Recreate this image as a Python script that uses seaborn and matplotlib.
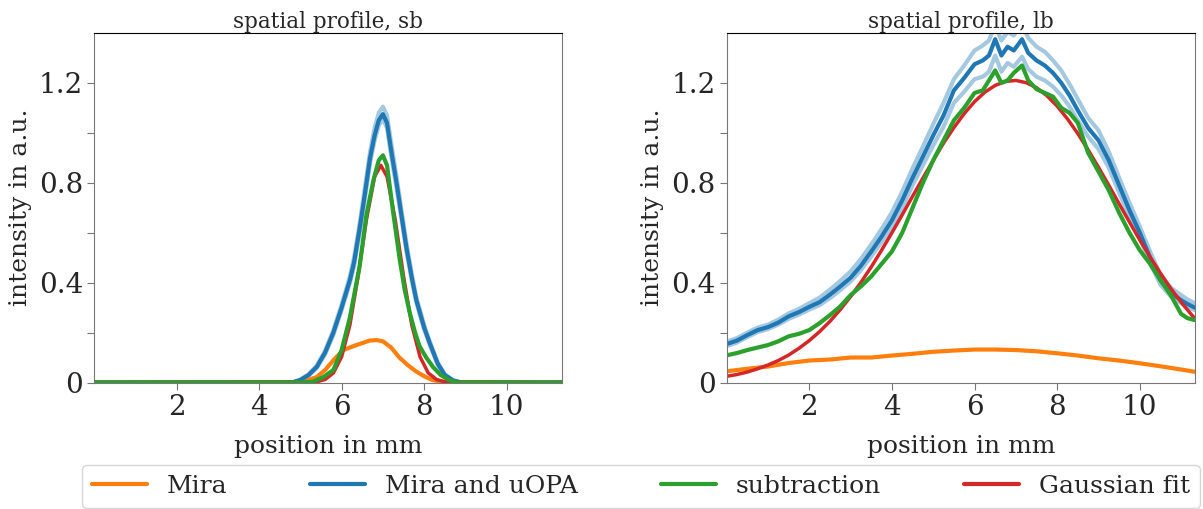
import matplotlib
matplotlib.use('Agg')
import matplotlib.pyplot as plt
import seaborn as sns
from matplotlib.lines import Line2D

sns.set_style('ticks')
plt.rcParams['font.family'] = 'DejaVu Serif'

# colours of the four signals
c_mira = '#ff7f0e'
c_both = '#1f77b4'
c_sub = '#2ca02c'
c_fit = '#d62728'

# ---- small beam (sb) ----
sb_mira_x = [0.0, 4.9, 5.1, 5.4, 5.6, 5.8, 6.04, 6.36, 6.68, 6.85, 7.0, 7.2, 7.4, 7.6, 7.8, 8.0, 8.2, 8.5, 11.34]
sb_mira = [0.0, 0.0, 0.005, 0.022, 0.05, 0.089, 0.13, 0.15, 0.168, 0.17, 0.165, 0.14, 0.1, 0.07, 0.045, 0.025, 0.01, 0.0, 0.0]

sb_both_x = [0.0, 4.8, 5.0, 5.2, 5.4, 5.6, 5.8, 6.0, 6.2, 6.3, 6.44, 6.55, 6.69, 6.8, 6.9, 7.0, 7.1, 7.2,
             7.33, 7.45, 7.57, 7.7, 7.81, 8.0, 8.13, 8.33, 8.5, 8.7, 8.9, 11.34]
sb_both = [0.0, 0.0, 0.01, 0.03, 0.063, 0.12, 0.2, 0.3, 0.41, 0.48, 0.62, 0.74, 0.9, 0.99, 1.05, 1.075, 1.04, 0.93,
           0.8, 0.67, 0.54, 0.42, 0.33, 0.22, 0.16, 0.075, 0.03, 0.008, 0.0, 0.0]
sb_both_hi = [0.0, 0.0, 0.012, 0.033, 0.068, 0.128, 0.21, 0.312, 0.425, 0.5, 0.64, 0.765, 0.925, 1.02, 1.08, 1.105, 1.07, 0.96,
              0.825, 0.69, 0.56, 0.435, 0.342, 0.23, 0.167, 0.08, 0.033, 0.009, 0.0, 0.0]
sb_both_lo = [0.0, 0.0, 0.008, 0.027, 0.058, 0.113, 0.19, 0.29, 0.398, 0.465, 0.6, 0.72, 0.88, 0.97, 1.03, 1.055, 1.02, 0.91,
              0.78, 0.655, 0.525, 0.408, 0.32, 0.212, 0.153, 0.07, 0.027, 0.007, 0.0, 0.0]

sb_sub_x = [0.0, 5.0, 5.3, 5.56, 5.8, 6.0, 6.2, 6.44, 6.6, 6.77, 6.9, 7.0, 7.1, 7.25, 7.41, 7.53, 7.65, 7.78,
            7.89, 8.05, 8.21, 8.4, 8.6, 8.8, 11.34]
sb_sub = [0.0, 0.0, 0.003, 0.022, 0.05, 0.13, 0.26, 0.47, 0.67, 0.81, 0.89, 0.91, 0.87, 0.68, 0.49, 0.37, 0.28, 0.2,
          0.145, 0.1, 0.063, 0.03, 0.01, 0.0, 0.0]

sb_fit_x = [0.0, 5.2, 5.4, 5.6, 5.8, 6.0, 6.2, 6.4, 6.6, 6.8, 6.95, 7.1, 7.3, 7.5, 7.7, 7.9, 8.1, 8.3, 8.5, 8.7, 11.34]
sb_fit = [0.0, 0.001, 0.003, 0.012, 0.038, 0.103, 0.23, 0.426, 0.651, 0.825, 0.87, 0.825, 0.651, 0.426, 0.23, 0.103,
          0.038, 0.012, 0.003, 0.001, 0.0]

# ---- large beam (lb) ----
lb_mira_x = [0.0, 0.5, 1.0, 1.5, 2.0, 2.5, 3.0, 3.5, 4.0, 4.5, 5.0, 5.5, 6.0, 6.5, 7.0, 7.5, 8.0, 8.5, 9.0,
             9.5, 10.0, 10.5, 11.0, 11.33]
lb_mira = [0.045, 0.055, 0.064, 0.078, 0.088, 0.092, 0.1, 0.1, 0.108, 0.115, 0.123, 0.128, 0.132, 0.132, 0.13,
           0.125, 0.117, 0.108, 0.097, 0.088, 0.077, 0.065, 0.052, 0.043]

lb_x = [0.0, 0.25, 0.5, 0.75, 1.0, 1.25, 1.5, 1.75, 2.0, 2.25, 2.5, 2.75, 3.0, 3.25, 3.5, 3.75, 4.0, 4.25, 4.5,
        4.75, 5.0, 5.25, 5.5, 5.75, 6.0, 6.2, 6.35, 6.5, 6.65, 6.8, 6.95, 7.15, 7.3, 7.5, 7.7, 7.9, 8.1, 8.3,
        8.5, 8.75, 9.0, 9.25, 9.5, 9.75, 10.0, 10.25, 10.5, 10.75, 11.0, 11.15, 11.33]
lb_both = [0.154, 0.168, 0.19, 0.21, 0.222, 0.24, 0.265, 0.282, 0.303, 0.322, 0.352, 0.385, 0.42, 0.468, 0.525,
           0.585, 0.65, 0.73, 0.82, 0.905, 0.99, 1.07, 1.17, 1.22, 1.275, 1.29, 1.31, 1.375, 1.31, 1.345, 1.33,
           1.375, 1.32, 1.29, 1.27, 1.24, 1.2, 1.15, 1.09, 1.02, 0.97, 0.89, 0.79, 0.69, 0.6, 0.5, 0.41, 0.36,
           0.33, 0.315, 0.3]
lb_both_hi = [0.164, 0.178, 0.2, 0.22, 0.232, 0.252, 0.277, 0.295, 0.318, 0.34, 0.372, 0.407, 0.445, 0.495, 0.553,
              0.615, 0.682, 0.765, 0.858, 0.945, 1.035, 1.12, 1.215, 1.27, 1.33, 1.35, 1.37, 1.435, 1.37, 1.405,
              1.39, 1.435, 1.38, 1.345, 1.325, 1.29, 1.25, 1.195, 1.135, 1.06, 1.01, 0.925, 0.82, 0.72, 0.625,
              0.525, 0.43, 0.38, 0.35, 0.333, 0.318]
lb_both_lo = [0.146, 0.16, 0.182, 0.202, 0.214, 0.232, 0.255, 0.272, 0.292, 0.31, 0.338, 0.37, 0.405, 0.45, 0.505,
              0.562, 0.625, 0.7, 0.79, 0.87, 0.95, 1.025, 1.12, 1.165, 1.215, 1.225, 1.245, 1.31, 1.245, 1.28,
              1.265, 1.305, 1.255, 1.225, 1.21, 1.185, 1.15, 1.105, 1.05, 0.985, 0.935, 0.86, 0.76, 0.665, 0.578,
              0.48, 0.392, 0.345, 0.318, 0.302, 0.29]
lb_sub = [0.109, 0.118, 0.13, 0.14, 0.15, 0.165, 0.185, 0.195, 0.21, 0.238, 0.27, 0.305, 0.35, 0.385, 0.425,
          0.475, 0.525, 0.6, 0.7, 0.8, 0.89, 0.97, 1.05, 1.1, 1.16, 1.17, 1.21, 1.25, 1.2, 1.21, 1.24, 1.27, 1.21,
          1.175, 1.16, 1.145, 1.1, 1.08, 1.04, 0.92, 0.845, 0.77, 0.68, 0.6, 0.53, 0.475, 0.41, 0.35, 0.275,
          0.258, 0.25]

lb_fit_x = [0.0, 0.25, 0.5, 0.75, 1.0, 1.25, 1.5, 1.75, 2.0, 2.25, 2.5, 2.75, 3.0, 3.25, 3.5, 3.75, 4.0, 4.25,
            4.5, 4.75, 5.0, 5.25, 5.5, 5.75, 6.0, 6.25, 6.5, 6.75, 7.0, 7.25, 7.5, 7.75, 8.0, 8.25, 8.5, 8.75,
            9.0, 9.25, 9.5, 9.75, 10.0, 10.25, 10.5, 10.75, 11.0, 11.25, 11.33]
lb_fit = [0.025, 0.032, 0.042, 0.055, 0.07, 0.088, 0.11, 0.137, 0.168, 0.204, 0.245, 0.292, 0.344, 0.401, 0.463,
          0.53, 0.6, 0.672, 0.746, 0.819, 0.89, 0.959, 1.021, 1.077, 1.125, 1.163, 1.19, 1.206, 1.21, 1.201,
          1.181, 1.149, 1.107, 1.056, 0.997, 0.932, 0.862, 0.79, 0.716, 0.643, 0.571, 0.503, 0.438, 0.377,
          0.322, 0.272, 0.258]

panels = [
    ('spatial profile, sb', sb_mira_x, sb_mira, sb_both_x, sb_both, sb_both_hi, sb_both_lo,
     sb_sub_x, sb_sub, sb_fit_x, sb_fit, 11.34),
    ('spatial profile, lb', lb_mira_x, lb_mira, lb_x, lb_both, lb_both_hi, lb_both_lo,
     lb_x, lb_sub, lb_fit_x, lb_fit, 11.33),
]

fig = plt.figure(figsize=(12.03, 5.09), dpi=100)
W, H = 1203, 509
lefts = [94, 726.7]

for left, (title, mx, my, bx, by, bhi, blo, sx, sy, fx, fy, xmax) in zip(lefts, panels):
    ax = fig.add_axes([left / W, 1 - 382.5 / H, 468 / W, 349.5 / H])
    for trace in (bhi, blo):
        sns.lineplot(x=bx, y=trace, color=c_both, alpha=0.4, lw=3.0, ax=ax)
    sns.lineplot(x=mx, y=my, color=c_mira, lw=3.0, ax=ax)
    sns.lineplot(x=bx, y=by, color=c_both, lw=3.0, ax=ax)
    sns.lineplot(x=fx, y=fy, color=c_fit, lw=2.5, ax=ax)
    sns.lineplot(x=sx, y=sy, color=c_sub, lw=3.0, ax=ax)

    ax.set_xlim(0, xmax)
    ax.set_ylim(0, 1.4)
    ax.set_xticks([2, 4, 6, 8, 10])
    ax.set_xticklabels(['2', '4', '6', '8', '10'])
    ax.set_yticks([0, 0.2, 0.4, 0.6, 0.8, 1.0, 1.2])
    ax.set_yticklabels(['0', '', '0.4', '', '0.8', '', '1.2'])
    ax.tick_params(labelsize=20, length=5, color='#777777', pad=3)
    for side in ('left', 'right', 'bottom'):
        ax.spines[side].set_color('#777777')
    ax.spines['top'].set_color('black')
    ax.set_title(title, fontsize=15.5, pad=3)
    ax.set_xlabel('position in mm', fontsize=18, labelpad=10)
    ax.set_ylabel('intensity in a.u.', fontsize=18, labelpad=5)

handles = [Line2D([], [], color=c, lw=3) for c in (c_mira, c_both, c_sub, c_fit)]
labels = ['Mira', 'Mira and uOPA', 'subtraction', 'Gaussian fit']
fig.legend(handles, labels, loc='lower left', bbox_to_anchor=(82 / W, 1 / H, 1118 / W, 45 / H),
           mode='expand', ncol=4, fontsize=18, borderaxespad=0, handlelength=2.2)

fig.savefig('out.png', dpi=100)
